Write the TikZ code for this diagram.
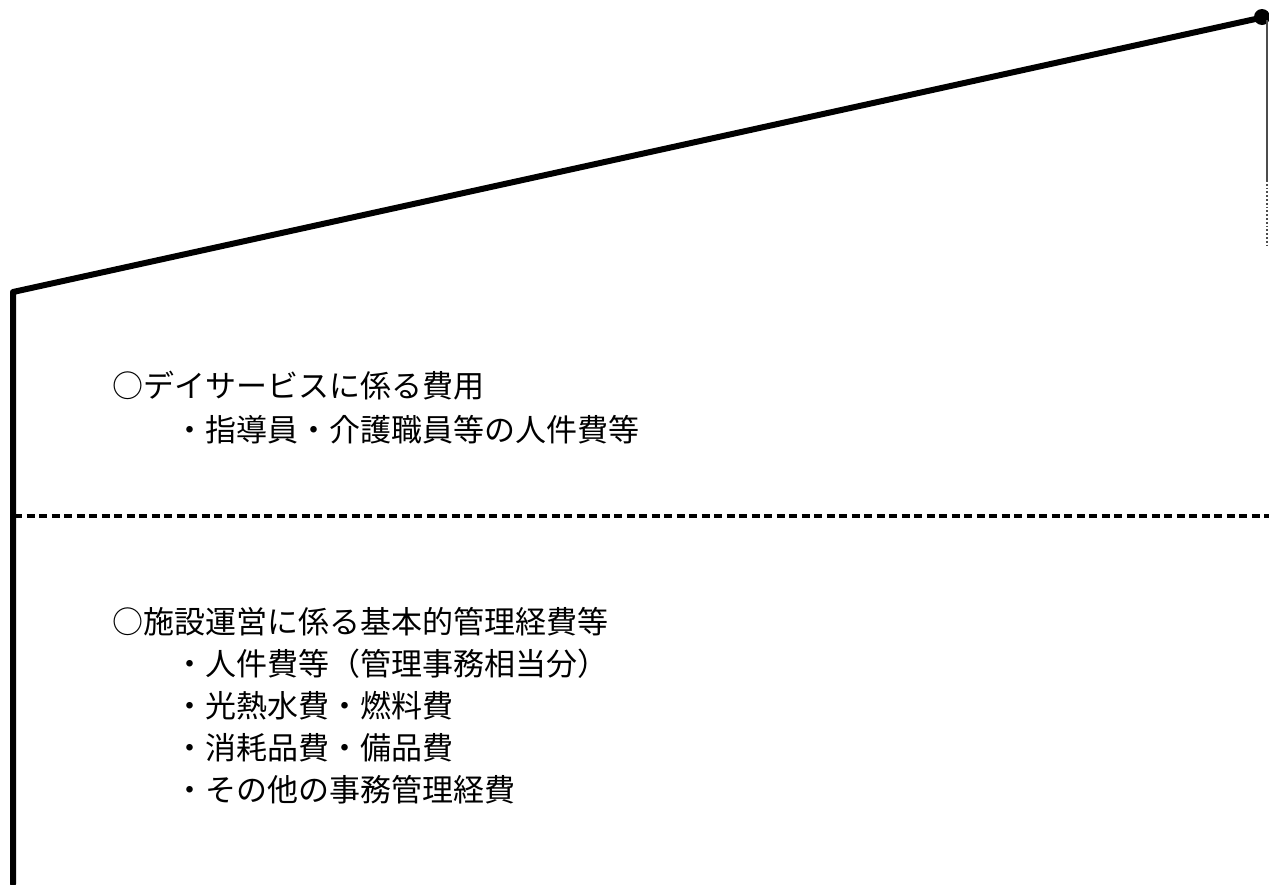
\documentclass[tikz,border=0pt]{standalone}
\usepackage{fontspec}
\newfontfamily\jp{Noto Sans CJK JP}
\begin{document}
\begin{tikzpicture}[x=1pt,y=-1pt,
  thickline/.style={line width=6pt,line join=round,line cap=round},
  sepline/.style={line width=3.5pt,dash pattern=on 8pt off 4.5pt},
  thinline/.style={line width=1.8pt,draw=black!70},
  txt/.style={anchor=west,inner sep=0pt,font=\jp\fontsize{31pt}{36pt}\selectfont}]
\useasboundingbox (0,0) rectangle (1269,884);
\coordinate (bl) at (13,884);
\coordinate (tl) at (13,292);
\coordinate (tr) at (1260,18);
\coordinate (rt) at (1267,20);
\coordinate (rm) at (1267,180);
\coordinate (rb) at (1267,248);
\coordinate (dl) at (14,516);
\coordinate (dr) at (1269,516);
\draw[thickline] (bl) -- (tl) -- (tr);
\fill (1262,17) circle (8pt);
\draw[thinline] (rt) -- (rm);
\draw[thinline,dotted] (rm) -- (rb);
\draw[sepline] (dl) -- (dr);
\node[txt] (a) at (112,386) {○デイサービスに係る費用};
\node[txt] (a1) at (112,430) {\hspace{2em}・指導員・介護職員等の人件費等};
\node[txt] (b) at (112,622) {○施設運営に係る基本的管理経費等};
\node[txt] (b1) at (112,664) {\hspace{2em}・人件費等（管理事務相当分）};
\node[txt] (b2) at (112,706) {\hspace{2em}・光熱水費・燃料費};
\node[txt] (b3) at (112,748) {\hspace{2em}・消耗品費・備品費};
\node[txt] (b4) at (112,790) {\hspace{2em}・その他の事務管理経費};
\end{tikzpicture}
\end{document}
